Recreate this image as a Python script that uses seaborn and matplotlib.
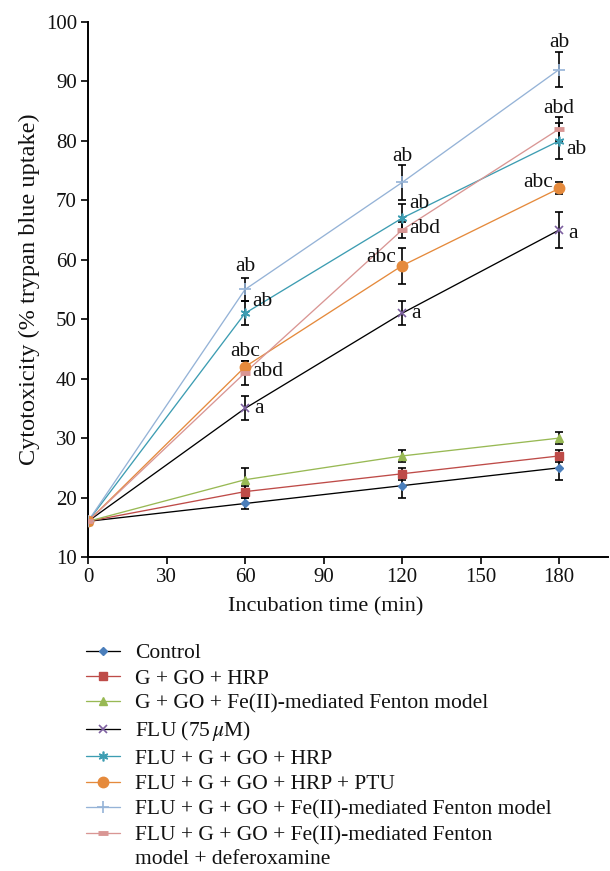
import matplotlib
matplotlib.use("Agg")
import matplotlib.pyplot as plt
from matplotlib.lines import Line2D
import seaborn as sns
import pandas as pd

# ---------------- data ----------------
times = [0, 60, 120, 180]
series_names = [
    "Control",
    "G + GO + HRP",
    "G + GO + Fe(II)-mediated Fenton model",
    "FLU (75$\\,\\mu$M)",
    "FLU + G + GO + HRP",
    "FLU + G + GO + HRP + PTU",
    "FLU + G + GO + Fe(II)-mediated Fenton model",
    "FLU + G + GO + Fe(II)-mediated Fenton",
]
last_label_cont = "model + deferoxamine"

control      = [16, 19, 22, 25]
g_go_hrp     = [16, 21, 24, 27]
g_go_fe      = [16, 23, 27, 30]
flu          = [16, 35, 51, 65]
flu_hrp      = [16, 51, 67, 80]
flu_hrp_ptu  = [16, 42, 59, 72]
flu_fe       = [16, 55, 73, 92]
flu_fe_dfo   = [16, 41, 65, 82]

control_err     = [0, 1, 2, 2]
g_go_hrp_err    = [0, 1, 1, 1]
g_go_fe_err     = [0, 2, 1, 1]
flu_err         = [0, 2, 2, 3]
flu_hrp_err     = [0, 2, 2.3, 3]
flu_hrp_ptu_err = [0, 1, 3, 1]
flu_fe_err      = [0, 2, 3, 3]
flu_fe_dfo_err  = [0, 2, 1.3, 2]

values = [control, g_go_hrp, g_go_fe, flu, flu_hrp, flu_hrp_ptu, flu_fe, flu_fe_dfo]
errors = [control_err, g_go_hrp_err, g_go_fe_err, flu_err, flu_hrp_err,
          flu_hrp_ptu_err, flu_fe_err, flu_fe_dfo_err]

# significance letters: (series index, time, text, placement)
sig_series = [6, 4, 5, 7, 3, 6, 4, 7, 5, 3, 6, 7, 4, 5, 3]
sig_times  = [60, 60, 60, 60, 60, 120, 120, 120, 120, 120, 180, 180, 180, 180, 180]
sig_text   = ["ab", "ab", "abc", "abd", "a", "ab", "ab", "abd", "abc", "a",
              "ab", "abd", "ab", "abc", "a"]
sig_place  = ["above", "right", "above", "right", "right",
              "above", "right", "right", "left", "right",
              "above", "above", "right", "left", "right"]
# vertical offset of the label centre from the point (data units)
sig_dy     = [3.8, 2.0, 2.5, 0.2, 0.0,
              4.4, 2.5, 0.2, 1.4, 0.0,
              4.5, 3.5, -1.4, 1.0, -0.5]

# ---------------- styles ----------------
line_colors   = ["black", "#be4b48", "#98b954", "black", "#3d9db2", "#e58a3c", "#95b3d7", "#d99694"]
marker_colors = ["#4a7ebb", "#be4b48", "#98b954", "#7d60a0", "#3d9db2", "#e58a3c", "#95b3d7", "#d99694"]
markers       = ["D", "s", "^", "x", (6, 2, 0), "o", "+", "_"]
msizes        = [4.2, 5.5, 6, 6, 7, 7.5, 8, 6.5]
mews          = [1, 1, 1, 1.2, 1.2, 1, 1.2, 3.5]

sns.set_theme(style="white")
plt.rcParams["font.family"] = ["Liberation Serif", "DejaVu Serif"]
plt.rcParams["mathtext.fontset"] = "stix"

FS_TICK = 15
FS_XLAB = 16
FS_YLAB = 17.5
FS_LEG = 15.5
FS_SIG = 15.5
TXT = "#111111"

fig = plt.figure(figsize=(6.10, 8.71), dpi=100)
ax = fig.add_axes([88 / 610, 1 - 557 / 871, (608 - 88) / 610, (557 - 22) / 871])

rows = []
for name, vals in zip(series_names, values):
    for t, v in zip(times, vals):
        rows.append({"series": name, "time": t, "value": v})
df = pd.DataFrame(rows)

handles = []
for i, name in enumerate(series_names):
    sub = df[df["series"] == name]
    sns.lineplot(data=sub, x="time", y="value", ax=ax, color=line_colors[i],
                 lw=0.95, legend=False, zorder=2 + i * 0.1)
    ax.errorbar(times[1:], values[i][1:], yerr=errors[i][1:], fmt="none",
                ecolor="black", elinewidth=1.2, capsize=3, capthick=1.2, zorder=3)
    ax.plot(times, values[i], ls="none", marker=markers[i], ms=msizes[i],
            mec=marker_colors[i], mfc=marker_colors[i], mew=mews[i], zorder=4 + i * 0.1)
    handles.append(Line2D([0], [0], color=line_colors[i], lw=0.95, marker=markers[i],
                          ms=msizes[i], mec=marker_colors[i], mfc=marker_colors[i],
                          mew=mews[i]))

# significance labels
for s, t, txt, place, dy in zip(sig_series, sig_times, sig_text, sig_place, sig_dy):
    y = values[s][times.index(t)] + dy
    if place == "above":
        ax.annotate(txt, (t, y), xytext=(0, 0), textcoords="offset pixels",
                    ha="center", va="center", fontsize=FS_SIG, color=TXT)
    elif place == "right":
        ax.annotate(txt, (t, y), xytext=(7 if txt != "a" else 9, 0), textcoords="offset pixels",
                    ha="left", va="center", fontsize=FS_SIG, color=TXT)
    else:
        ax.annotate(txt, (t, y), xytext=(-6, 0), textcoords="offset pixels",
                    ha="right", va="center", fontsize=FS_SIG, color=TXT)

ax.set_xlim(0, 198.7)
ax.set_ylim(10, 100)
ax.set_xticks([0, 30, 60, 90, 120, 150, 180])
ax.set_yticks(range(10, 101, 10))
ax.tick_params(axis="both", direction="out", length=5, width=1.2, color="black",
               labelsize=FS_TICK, labelcolor=TXT, bottom=True, left=True, pad=3)
for sp in ["top", "right"]:
    ax.spines[sp].set_visible(False)
for sp in ["left", "bottom"]:
    ax.spines[sp].set_color("black")
    ax.spines[sp].set_linewidth(1.4)
ax.set_xlabel("Incubation time (min)", fontsize=FS_XLAB, color=TXT)
ax.set_ylabel("Cytotoxicity (% trypan blue uptake)", fontsize=FS_YLAB, color=TXT)
ax.xaxis.set_label_coords((326 - 88) / 520, (557 - 597) / 535)
ax.yaxis.set_label_coords((40 - 88) / 520, 0.5)
ax.grid(False)

leg = fig.legend(handles=handles, labels=series_names, loc="upper left",
                 bbox_to_anchor=(86 / 610, 1 - 643 / 871), bbox_transform=fig.transFigure,
                 frameon=False, fontsize=FS_LEG, handlelength=1.6, handletextpad=0.68,
                 labelspacing=0.25, borderpad=0, borderaxespad=0)
for t in leg.get_texts():
    t.set_color(TXT)

# continuation line of the last (two-line) legend entry
fig.canvas.draw()
bb = leg.get_texts()[-1].get_window_extent()
fig.text(bb.x0 / fig.bbox.width, (bb.y0 - 24) / fig.bbox.height, last_label_cont,
         fontsize=FS_LEG, color=TXT, ha="left", va="bottom")

fig.savefig("out.png", dpi=100)
